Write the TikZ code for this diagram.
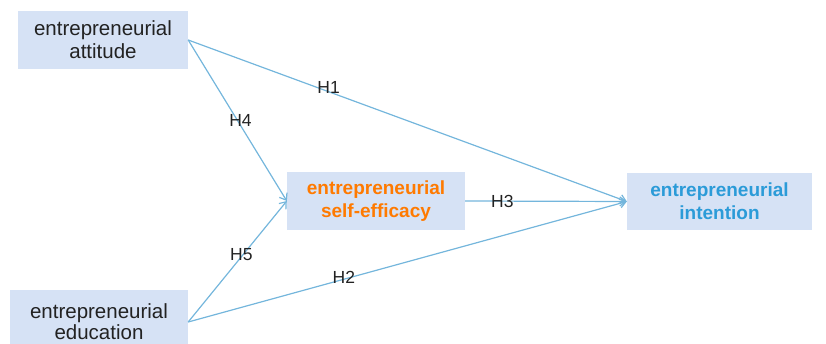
\documentclass[tikz,border=0pt]{standalone}
\usepackage{fontspec}
\setmainfont{Liberation Sans}
\usetikzlibrary{arrows.meta}
\definecolor{boxfill}{HTML}{D6E2F5}
\definecolor{linec}{HTML}{74B6DC}
\definecolor{orangec}{HTML}{FF7A00}
\definecolor{bluec}{HTML}{2B9BD8}
\definecolor{textc}{HTML}{222222}
\begin{document}
\begin{tikzpicture}[x=1pt,y=-1pt,
  box/.style={fill=boxfill, draw=none, align=center, inner sep=0pt,
    font=\fontsize{20.5}{23}\selectfont, text=textc},
  link/.style={draw=linec, line width=1.2pt, -{Straight Barb[length=6pt,width=9pt]}},
  hlab/.style={font=\fontsize{17.5}{20}\selectfont, text=textc, inner sep=0pt}]
\useasboundingbox (0,0) rectangle (826,344);
\node[box, minimum width=170pt, minimum height=58pt] (att) at (103,40) {entrepreneurial\\attitude};
\node[box, minimum width=178pt, minimum height=64pt] (edu) at (99,322) {entrepreneurial\\[-2pt]education};
\node[box, minimum width=178pt, minimum height=58pt, text=orangec, font=\fontsize{19}{23}\selectfont\bfseries] (sel) at (376,201) {entrepreneurial\\self-efficacy};
\node[box, minimum width=185pt, minimum height=57pt, text=bluec, font=\fontsize{19}{23}\selectfont\bfseries] (int) at (719.5,201.5) {entrepreneurial\\intention};
\draw[link] (att.east) -- node[hlab, pos=0.32, yshift=4pt] {H1} (int.west);
\draw[link] (att.east) -- node[hlab, pos=0.5, xshift=3pt] {H4} (sel.west);
\draw[link] (edu.east) -- node[hlab, pos=0.56, xshift=-2pt] {H5} (sel.west);
\draw[link] (edu.east) -- node[hlab, pos=0.355, yshift=2pt] {H2} (int.west);
\draw[link] (sel.east) -- node[hlab, pos=0.23] {H3} (int.west);
\end{tikzpicture}
\end{document}
